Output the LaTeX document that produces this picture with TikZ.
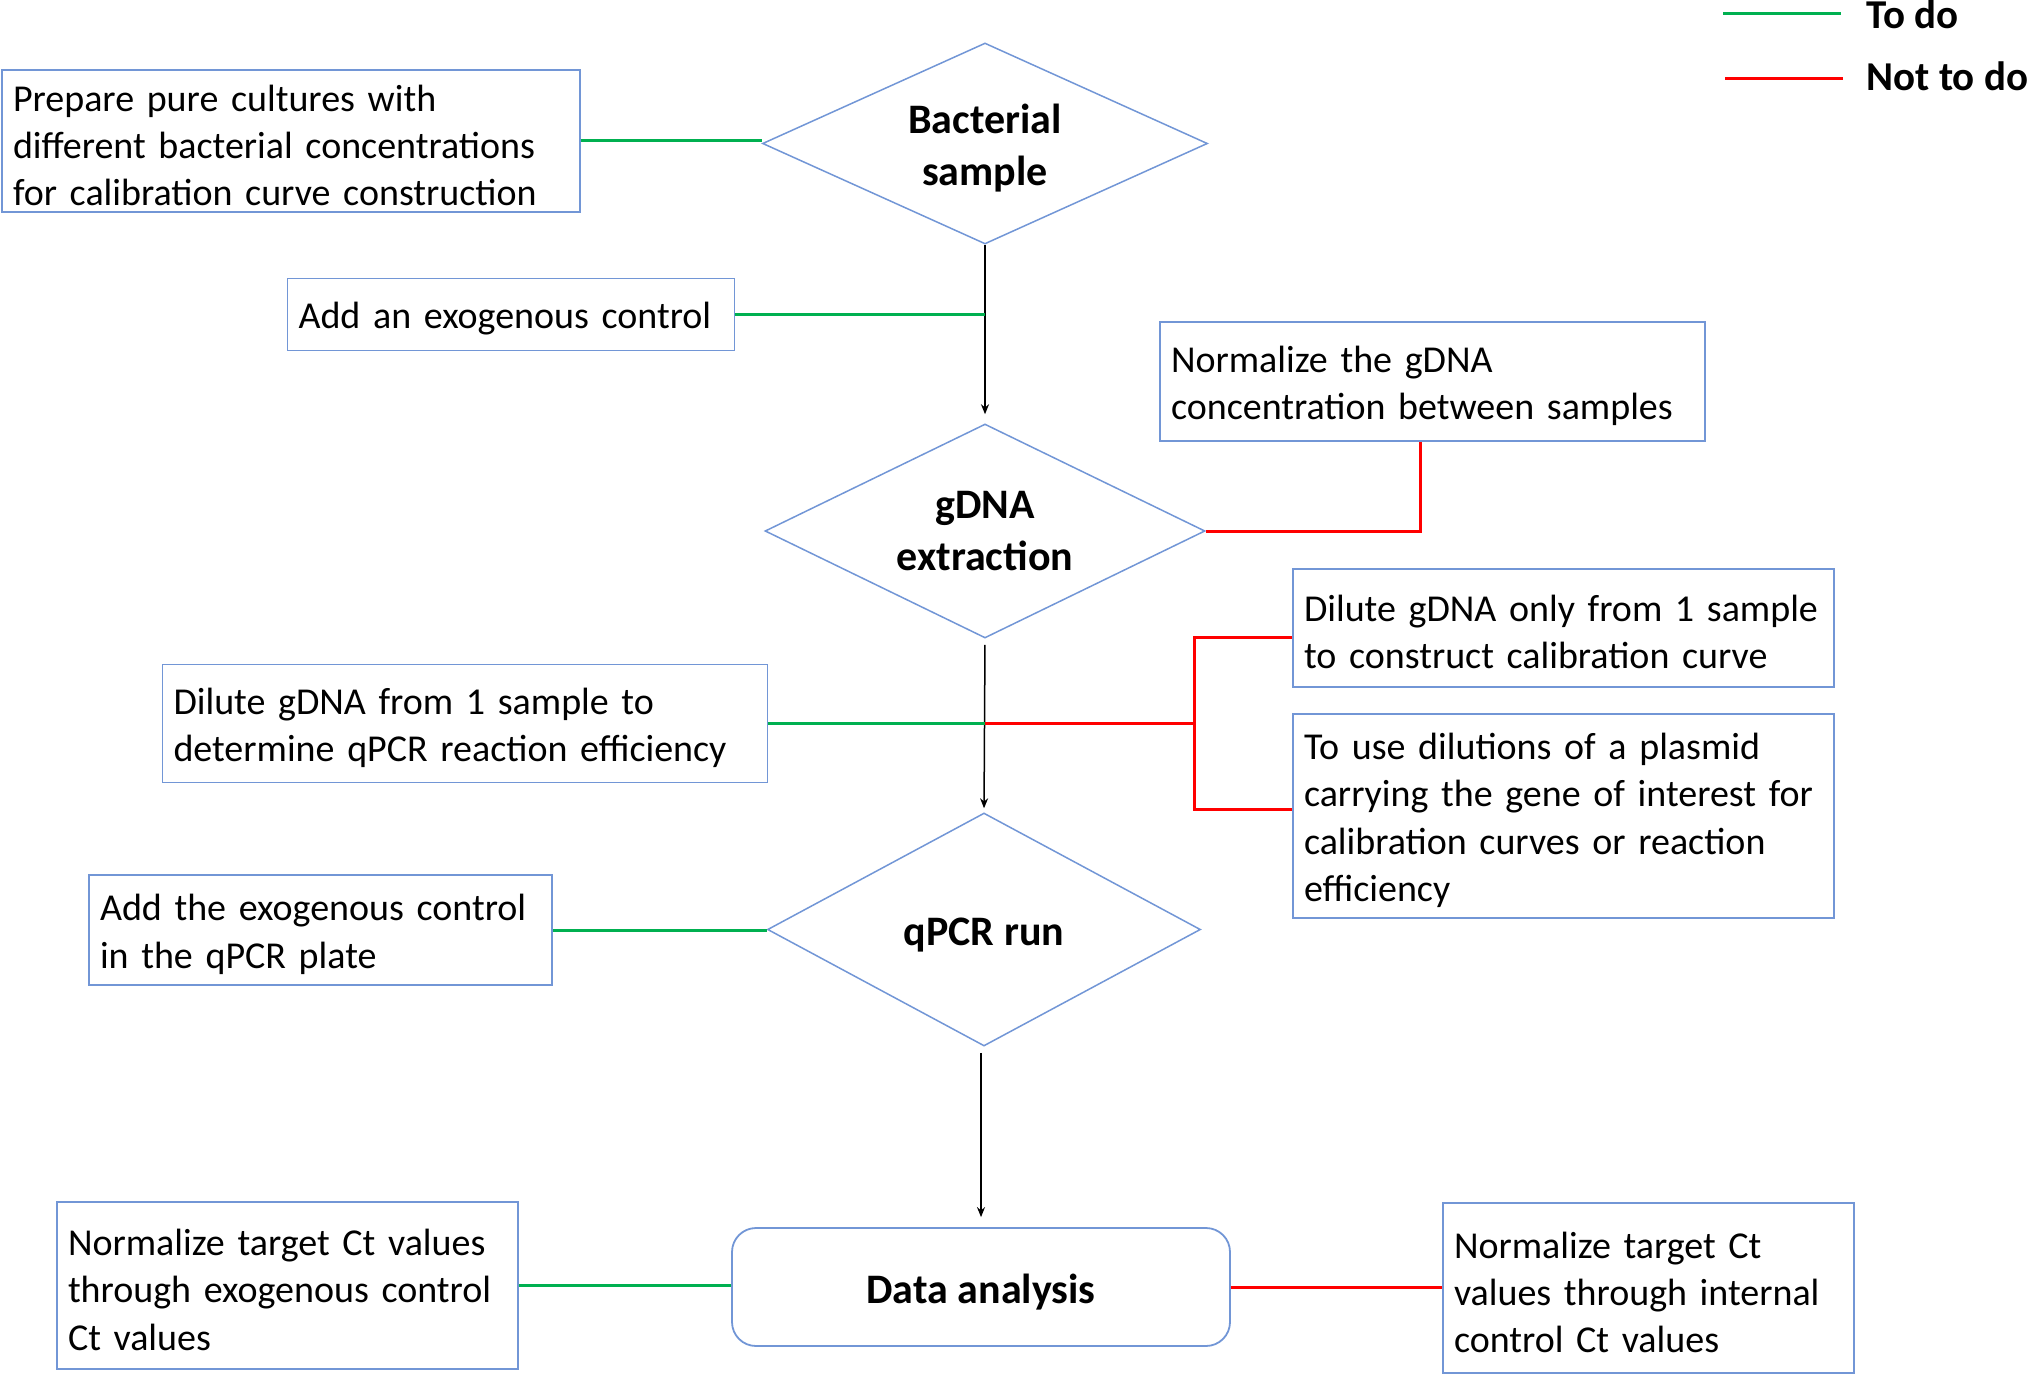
\documentclass[tikz,border=0pt]{standalone}
\usepackage{fontspec}
\setmainfont{Carlito}
\usetikzlibrary{shapes.geometric,arrows.meta}
\definecolor{boxblue}{RGB}{114,150,214}
\definecolor{todogreen}{RGB}{0,176,80}
\definecolor{notred}{RGB}{255,0,0}
\newcommand\topstrutA{\vrule height 17.5pt depth 0pt width 0pt\relax}
\newcommand\topstrutB{\vrule height 19.5pt depth 0pt width 0pt\relax}
\tikzset{
  txtbox/.style={draw=boxblue, line width=0.9pt, align=left, inner xsep=5.5pt, inner ysep=0pt,
    font=\fontsize{19pt}{23.6pt}\selectfont, anchor=center,
    execute at begin node={\hyphenpenalty=10000 \topstrutA}},
  decision/.style={draw=boxblue, line width=0.75pt, diamond, aspect=2.2, inner sep=0pt,
    align=center, font=\fontsize{21pt}{26pt}\selectfont\bfseries},
  terminal/.style={draw=boxblue, line width=0.9pt, rounded corners=12pt, align=center,
    font=\fontsize{21pt}{26pt}\selectfont\bfseries},
  todo/.style={draw=todogreen, line width=1.5pt},
  nottodo/.style={draw=notred, line width=1.5pt},
  flow/.style={draw=black, line width=0.75pt, -{Stealth[length=5pt,width=4pt]}},
  legendtext/.style={font=\fontsize{20.5pt}{24pt}\selectfont\bfseries, inner sep=0pt, anchor=base west}
}
\begin{document}
\begin{tikzpicture}[x=0.5pt, y=-0.5pt]
\useasboundingbox (0,0) rectangle (2032,1375);

% decision diamonds
\node[decision, minimum width=222.5pt, minimum height=100.5pt] (bact) at (985,143.5) {\topstrutB Bacterial\\sample};
\node[decision, minimum width=220pt, minimum height=107pt] (gdna) at (985,531) {gDNA\\extraction};
\node[decision, minimum width=216.5pt, minimum height=116.5pt] (qpcr) at (984,929.5) {\topstrutB qPCR run};
\node[terminal, minimum width=249pt, minimum height=59pt] (data) at (981,1287) {\topstrutB Data analysis};

% text boxes
\node[txtbox, text width=278pt, minimum height=71pt] (prep) at (291,141)
  {Prepare pure cultures with\\different bacterial concentrations\\for calibration curve construction};
\node[txtbox, text width=212.5pt, minimum height=36pt] (exo) at (511,314.5)
  {Add an exogenous control};
\node[txtbox, text width=261.5pt, minimum height=59.5pt] (normg) at (1432.5,381.5)
  {Normalize the gDNA\\concentration between samples};
\node[txtbox, text width=291.5pt, minimum height=59pt] (dil1) at (465,723.5)
  {Dilute gDNA from 1 sample to\\determine qPCR reaction efficiency};
\node[txtbox, text width=259.5pt, minimum height=59pt] (dilonly) at (1563.5,628)
  {Dilute gDNA only from 1 sample\\to construct calibration curve};
\node[txtbox, text width=259.5pt, minimum height=102pt] (plasmid) at (1563.5,816)
  {To use dilutions of a plasmid\\carrying the gene of interest for\\calibration curves or reaction\\efficiency};
\node[txtbox, text width=220.5pt, minimum height=55pt] (addq) at (320.5,930)
  {Add the exogenous control\\in the qPCR plate};
\node[txtbox, text width=219.5pt, minimum height=83.5pt] (normexo) at (287.5,1285.5)
  {Normalize target Ct values\\through exogenous control\\Ct values};
\node[txtbox, text width=194.5pt, minimum height=85pt] (normint) at (1648.5,1288)
  {Normalize target Ct\\values through internal\\control Ct values};

% main flow
\draw[flow, shorten >=4.5pt] (bact.south) -- (gdna.north);
\draw[flow, shorten <=3pt, shorten >=2pt] (gdna.south) -- (qpcr.north);
\draw[flow, shorten <=3pt, shorten >=5pt] (qpcr.south -| data.north) -- (data.north);

% to do connectors
\draw[todo] (prep.east) -- (prep.east -| bact.west);
\draw[todo] (exo.east) -- (exo.east -| bact.south);
\draw[todo] (dil1.east) -- (dil1.east -| gdna.south);
\draw[todo] (addq.east) -- (addq.east -| qpcr.west);
\draw[todo] (normexo.east) -- (normexo.east -| data.west);

% not to do connectors
\draw[nottodo] (gdna.east) -| ([xshift=-6.25pt]normg.south);
\coordinate (bt) at (1194,637.5);
\coordinate (bb) at (1194,809);
\draw[nottodo] (dil1.east -| gdna.south) -- (dil1.east -| bt);
\draw[nottodo] (dilonly.west |- bt) -- (bt) -- (bb) -- (plasmid.west |- bb);
\draw[nottodo] (data.east) -- (data.east -| normint.west);

% legend
\coordinate (lga) at (1723,14);
\coordinate (lgb) at (1841,14);
\coordinate (lgc) at (1725,79);
\coordinate (lgd) at (1843,79);
\draw[todo] (lga) -- (lgb);
\draw[nottodo] (lgc) -- (lgd);
\node[legendtext] (ltodo) at (1866,29) {To do};
\node[legendtext] (lnot) at (1866,91) {Not to do};
\end{tikzpicture}
\end{document}
